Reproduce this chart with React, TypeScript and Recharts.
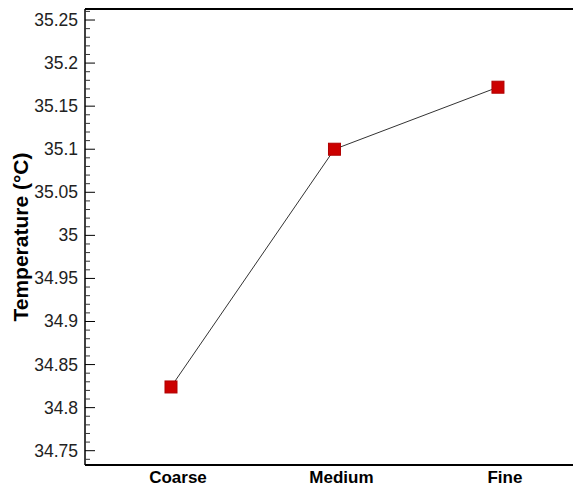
import { LineChart, Line, XAxis, YAxis, ReferenceLine } from 'recharts';

const categories = ['Coarse', 'Medium', 'Fine'];
const temperatures = [34.824, 35.1, 35.172];
const majorTicks = [34.75, 34.8, 34.85, 34.9, 34.95, 35, 35.05, 35.1, 35.15, 35.2, 35.25];
const yDomain = [34.7334, 35.2628];
const xDomain = [0.474, 3.459];

// minor ticks every 0.01 between the labelled ones
const allTicks: number[] = [];
for (let i = 3474; i <= 3526; i++) allTicks.push(i / 100);

const data = categories.map((name, i) => ({ pos: i + 1, name, temp: temperatures[i] }));

const isMajor = (v: number) => majorTicks.some((m) => Math.abs(m - v) < 1e-6);

const YTick = (props: any) => {
  const { x, y, payload } = props;
  const major = isMajor(payload.value);
  return (
    <g>
      <line x1={x} x2={x + (major ? 10 : 5)} y1={y} y2={y} stroke={major ? '#000' : '#333'} strokeWidth={1} />
      {major && (
        <text x={x - 7} y={y} textAnchor="end" dominantBaseline="central" fontSize={17.5} fill="#222">
          {String(Number(payload.value.toFixed(2)))}
        </text>
      )}
    </g>
  );
};

const XTick = (props: any) => {
  const { x, y, payload } = props;
  return (
    <text x={x + 7} y={y + 18} textAnchor="middle" fontSize={17} fontWeight="bold" fill="#000">
      {categories[payload.value - 1]}
    </text>
  );
};

const SquareDot = (props: any) => {
  const { cx, cy, index } = props;
  return <rect key={index} x={cx - 6} y={cy - 6} width={12} height={12} fill="#cc0000" stroke="#b00000" strokeWidth={1} />;
};

export default function App() {
  return (
    <div style={{ position: 'absolute', left: 0, top: 0, background: '#fff', fontFamily: '"Liberation Sans", Arial, sans-serif' }}>
      <LineChart width={574} height={486} data={data} margin={{ top: 9, right: 1, bottom: 0, left: 0 }}>
        <XAxis
          dataKey="pos"
          type="number"
          domain={xDomain}
          ticks={[1, 2, 3]}
          allowDataOverflow
          height={21}
          tickSize={0}
          tickMargin={0}
          tick={<XTick />}
          axisLine={{ stroke: '#000', strokeWidth: 2 }}
          tickLine={false}
        />
        <YAxis
          type="number"
          domain={yDomain}
          ticks={allTicks}
          interval={0}
          allowDataOverflow
          width={85}
          tickSize={0}
          tickMargin={0}
          tick={<YTick />}
          tickLine={false}
          axisLine={{ stroke: '#000', strokeWidth: 1.5 }}
          label={{
            value: 'Temperature (°C)',
            angle: -90,
            position: 'insideLeft',
            offset: 21,
            style: { textAnchor: 'middle', fontSize: 21, fontWeight: 'bold', fill: '#000' },
          }}
        />
        <ReferenceLine y={yDomain[1]} stroke="#000" strokeWidth={2} />
        <Line
          dataKey="temp"
          stroke="#333"
          strokeWidth={1}
          dot={<SquareDot />}
          activeDot={false}
          isAnimationActive={false}
        />
      </LineChart>
    </div>
  );
}
